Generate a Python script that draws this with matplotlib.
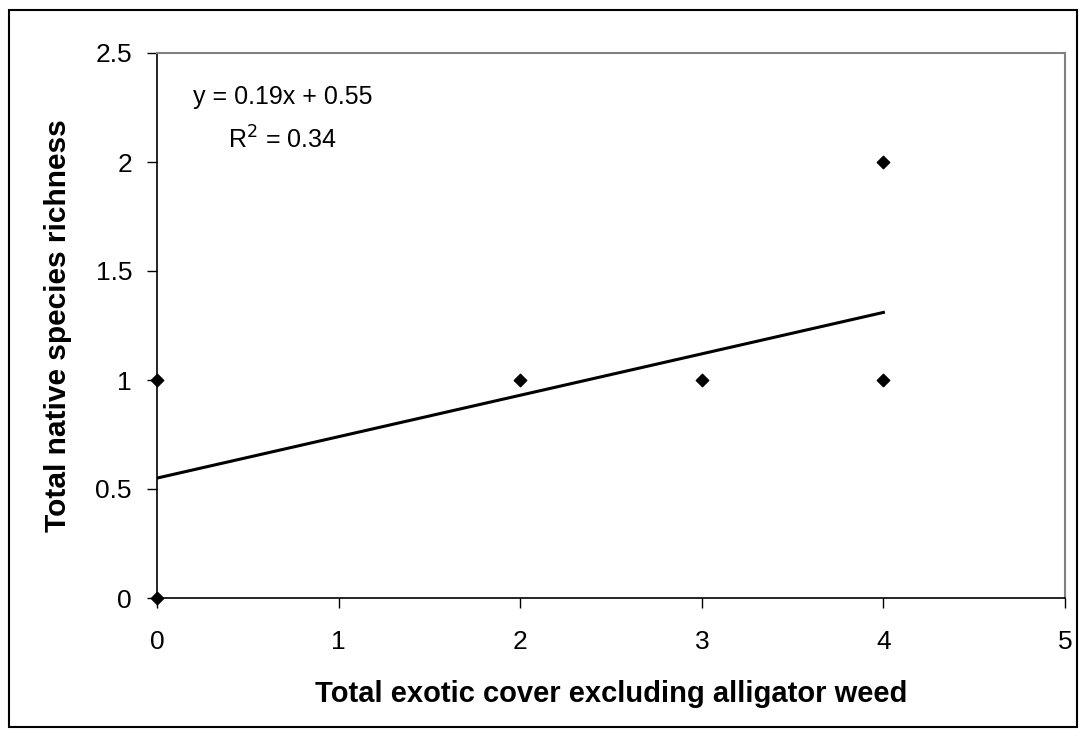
import matplotlib
matplotlib.use('Agg')
import numpy as np
import matplotlib.pyplot as plt
from matplotlib.patches import Rectangle

# data
exotic_cover = [0, 0, 2, 3, 4, 4]
native_richness = [1, 0, 1, 1, 2, 1]
slope = 0.19
intercept = 0.55
r_squared = 0.34

plt.rcParams['font.family'] = ['Liberation Sans', 'DejaVu Sans']

fig = plt.figure(figsize=(10.86, 7.36), dpi=100)
ax = fig.add_axes([157/1086, 1 - 598/736, (1065-157)/1086, (598-53)/736])

# trendline
xfit = np.array([min(exotic_cover), max(exotic_cover)])
ax.plot(xfit, slope * xfit + intercept, color='black', lw=2.2, zorder=2)
ax.scatter(exotic_cover, native_richness, marker='D', s=40, color='black', zorder=3, clip_on=False)

ax.set_xlim(0, 5)
ax.set_ylim(0, 2.5)
ax.set_xticks(range(0, 6))
ax.set_yticks([0, 0.5, 1, 1.5, 2, 2.5])
ax.set_yticklabels(['0', '0.5', '1', '1.5', '2', '2.5'])
ax.tick_params(direction='out', length=7, width=1, labelsize=19, colors='black')
ax.tick_params(axis='y', pad=11)
ax.tick_params(axis='x', pad=16)

for s in ['top', 'right']:
    ax.spines[s].set_color('#808080')
    ax.spines[s].set_linewidth(1.5)
for s in ['left', 'bottom']:
    ax.spines[s].set_color('black')
    ax.spines[s].set_linewidth(1.2)

ax.set_xlabel('Total exotic cover excluding alligator weed', fontsize=21, fontweight='bold', labelpad=19)
ax.set_ylabel('Total native species richness', fontsize=21.5, fontweight='bold', labelpad=17)

ax.text(0.69, 2.30, 'y = %.2fx + %.2f' % (slope, intercept), fontsize=18, ha='center', va='center')
ax.text(0.69, 2.10, 'R$^2$ = %.2f' % r_squared, fontsize=18, ha='center', va='center')

# outer border of the chart area
fig.patches.append(Rectangle((9/1086, 1 - 727/736), 1068/1086, 717/736, transform=fig.transFigure,
                             fill=False, edgecolor='black', lw=1.5))

fig.savefig('out.png', dpi=100)
